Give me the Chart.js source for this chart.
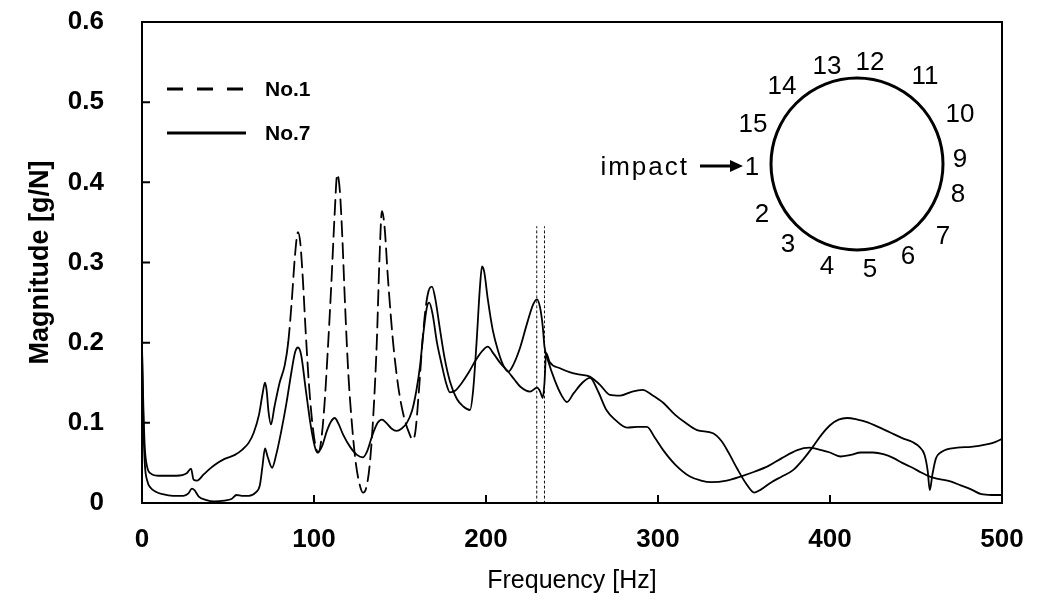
<!DOCTYPE html>
<html>
<head>
<meta charset="utf-8">
<script src="https://cdn.jsdelivr.net/npm/chart.js@4.4.1/dist/chart.umd.min.js"></script>
<style>
  html, body { margin: 0; padding: 0; background: #fff; }
</style>
</head>
<body>
<canvas id="myChart" width="1051" height="611"></canvas>
<script>
/* data : No.1 (impact point) */
const freq1 = [0, 0.8, 1.6, 3, 5, 10, 20, 26, 28.5, 30, 32, 36, 42, 48, 54, 58, 62, 65, 68, 70,
  71.5, 72.5, 73.5, 75, 77, 80, 83, 85, 87, 89, 90.7, 92, 93.5, 95, 97, 99, 101, 102.5, 104, 106,
  108, 110, 112, 113.5, 115, 116.5, 118, 120, 122, 124, 126, 128.5, 130.5, 132.5, 134.5, 136.5, 138, 139.5, 141, 143,
  146, 149, 152, 155, 157.5, 159, 161, 163, 165, 167, 168.6, 170.5, 173, 176, 179, 183, 187, 190.7, 192.5, 194.5,
  196.5, 197.7, 199, 201, 204, 207, 210, 213, 216, 220, 224, 227.5, 229.7, 231.5, 233, 234, 236, 240, 244, 247,
  251, 256, 260.5, 265, 270, 275, 282, 288, 293.6, 298, 303, 310, 318.6, 325, 331, 340, 348, 356, 364, 372,
  381, 388, 395, 400, 406, 412, 418, 425, 431, 437, 442, 448, 453, 458, 463, 470, 476, 482, 488, 494, 500];
const mag1 = [0.19, 0.12, 0.07, 0.045, 0.037, 0.034, 0.034, 0.037, 0.043, 0.029, 0.028, 0.036, 0.047, 0.055, 0.06, 0.066, 0.075, 0.088, 0.11, 0.135,
  0.15, 0.14, 0.115, 0.098, 0.12, 0.15, 0.172, 0.2, 0.25, 0.31, 0.338, 0.325, 0.28, 0.22, 0.15, 0.1, 0.07, 0.063, 0.075, 0.12,
  0.19, 0.27, 0.36, 0.41, 0.39, 0.33, 0.25, 0.16, 0.1, 0.055, 0.028, 0.013, 0.02, 0.05, 0.11, 0.2, 0.3, 0.364, 0.345, 0.28,
  0.2, 0.145, 0.11, 0.089, 0.079, 0.09, 0.14, 0.2, 0.245, 0.267, 0.27, 0.255, 0.22, 0.18, 0.152, 0.13, 0.12, 0.116, 0.14, 0.2,
  0.27, 0.295, 0.288, 0.255, 0.215, 0.19, 0.172, 0.164, 0.173, 0.195, 0.225, 0.248, 0.254, 0.243, 0.22, 0.195, 0.178, 0.153, 0.134, 0.126,
  0.137, 0.15, 0.156, 0.14, 0.116, 0.104, 0.094, 0.095, 0.095, 0.082, 0.066, 0.048, 0.033, 0.028, 0.026, 0.028, 0.033, 0.039, 0.046, 0.056,
  0.066, 0.069, 0.066, 0.063, 0.058, 0.06, 0.063, 0.063, 0.061, 0.056, 0.05, 0.044, 0.038, 0.033, 0.03, 0.027, 0.022, 0.017, 0.011, 0.01, 0.01];

/* data : No.7 */
const freq7 = [0, 0.8, 1.6, 3, 5, 8, 12, 18, 24, 27, 29, 30.5, 33, 37, 42, 48, 52, 55, 58, 62,
  66, 68.5, 70, 71.5, 73, 75.6, 78, 81, 84, 87, 89, 90.7, 92.5, 95, 98, 100.5, 102, 104.5, 107.5, 110,
  112, 114, 117, 121, 125, 128.5, 131, 134, 137, 139.5, 142, 145, 148, 151, 154, 157, 159.5, 161.6, 163.5, 165.7,
  167, 169, 171.5, 174, 177, 179, 182, 186, 190, 194, 198, 201, 204.5, 208.5, 212.8, 216.5, 220, 225.6, 229.7, 231.5,
  233, 234, 235, 237, 243, 249, 255, 260, 266, 272, 278, 285, 291, 297, 303, 310, 316, 322.7, 332, 337,
  341, 346, 351, 356, 360, 366, 372, 378.5, 385, 390, 395, 400, 405, 410, 416, 421.5, 428, 435, 442, 448,
  452, 455, 456.8, 458, 459.5, 461.5, 465, 474, 482, 491, 496, 500];
const mag7 = [0.2, 0.1, 0.05, 0.028, 0.019, 0.014, 0.011, 0.009, 0.009, 0.012, 0.018, 0.016, 0.008, 0.004, 0.002, 0.003, 0.005, 0.01, 0.009, 0.009,
  0.013, 0.022, 0.045, 0.068, 0.058, 0.044, 0.06, 0.09, 0.125, 0.165, 0.188, 0.194, 0.185, 0.145, 0.098, 0.07, 0.063, 0.07, 0.09, 0.102,
  0.106, 0.1, 0.085, 0.07, 0.06, 0.057, 0.065, 0.085, 0.1, 0.104, 0.1, 0.093, 0.09, 0.093, 0.1, 0.115, 0.14, 0.17, 0.21, 0.245,
  0.25, 0.235, 0.2, 0.175, 0.148, 0.138, 0.14, 0.15, 0.163, 0.178, 0.19, 0.195, 0.186, 0.174, 0.164, 0.154, 0.145, 0.139, 0.144, 0.139,
  0.131, 0.15, 0.187, 0.176, 0.168, 0.163, 0.16, 0.158, 0.148, 0.135, 0.134, 0.139, 0.141, 0.134, 0.125, 0.11, 0.1, 0.091, 0.087, 0.077,
  0.063, 0.043, 0.025, 0.013, 0.017, 0.026, 0.033, 0.041, 0.056, 0.07, 0.085, 0.097, 0.104, 0.106, 0.104, 0.101, 0.095, 0.088, 0.081, 0.076,
  0.07, 0.06, 0.04, 0.016, 0.035, 0.055, 0.064, 0.069, 0.07, 0.073, 0.076, 0.08];

/* dotted marker lines */
const markerFreq = [229.5, 234];
const markerTop = 0.345;

/* axes */
const xTicks = [0, 100, 200, 300, 400, 500];
const yTicks = [0, 0.1, 0.2, 0.3, 0.4, 0.5, 0.6];

/* ring diagram */
const ringLabels = ['1', '2', '3', '4', '5', '6', '7', '8', '9', '10', '11', '12', '13', '14', '15'];

const toPoints = (xs, ys) => xs.map((v, i) => ({x: v, y: ys[i]}));

const dashRange = ctx => (ctx.p0.parsed.x >= 84 && ctx.p1.parsed.x <= 168) ? [15, 7] : [];

// box, inward ticks, legend, ring
const decor = {
  id: 'decor',
  afterDatasetsDraw(chart) {
    const {ctx, chartArea: a, scales: {x, y}} = chart;
    ctx.save();
    ctx.strokeStyle = '#000';
    ctx.fillStyle = '#000';
    ctx.lineWidth = 2;
    ctx.setLineDash([]);
    ctx.strokeRect(a.left, a.top, a.right - a.left, a.bottom - a.top);

    ctx.beginPath();
    xTicks.slice(1, -1).forEach(v => {
      const px = x.getPixelForValue(v);
      ctx.moveTo(px, a.bottom); ctx.lineTo(px, a.bottom - 8);
    });
    yTicks.slice(1, -1).forEach(v => {
      const py = y.getPixelForValue(v);
      ctx.moveTo(a.left, py); ctx.lineTo(a.left + 8, py);
    });
    ctx.stroke();

    // legend
    const legY = [a.top + 67, a.top + 111];
    [0, 1].forEach(i => {
      const ds = chart.data.datasets[i];
      ctx.lineWidth = 3;
      ctx.setLineDash(i === 0 ? [16, 14] : []);
      ctx.beginPath();
      ctx.moveTo(a.left + 25, legY[i]);
      ctx.lineTo(a.left + 104, legY[i]);
      ctx.stroke();
      ctx.setLineDash([]);
      ctx.font = 'bold 21px "Liberation Sans", Arial, sans-serif';
      ctx.textBaseline = 'middle';
      ctx.textAlign = 'left';
      ctx.fillText(ds.label, a.left + 123, legY[i] + 1);
    });

    // ring
    const cx = a.left + 715, cy = a.top + 142, r = 86;
    ctx.lineWidth = 3;
    ctx.beginPath();
    ctx.arc(cx, cy, r, 0, Math.PI * 2);
    ctx.stroke();

    const offs = [[-105, 4], [-95, 51], [-69, 81], [-30, 103], [13, 106], [51, 93], [86, 73], [101, 31],
      [103, -4], [103, -49], [68, -87], [13, -101], [-30, -97], [-75, -77], [-104, -39]];
    ctx.font = '26px "Liberation Sans", Arial, sans-serif';
    ctx.textAlign = 'center';
    ctx.textBaseline = 'middle';
    ringLabels.forEach((t, i) => ctx.fillText(t, cx + offs[i][0], cy + offs[i][1]));

    ctx.textAlign = 'right';
    ctx.letterSpacing = '2px';
    ctx.fillText('impact', cx - 168, cy + 4);
    ctx.letterSpacing = '0px';
    ctx.lineWidth = 3;
    ctx.beginPath();
    ctx.moveTo(cx - 157, cy + 2);
    ctx.lineTo(cx - 125, cy + 2);
    ctx.stroke();
    ctx.beginPath();
    ctx.moveTo(cx - 114, cy + 2);
    ctx.lineTo(cx - 127, cy - 4);
    ctx.lineTo(cx - 127, cy + 8);
    ctx.closePath();
    ctx.fill();
    ctx.restore();
  }
};

const ctx = document.getElementById('myChart').getContext('2d');
const myChart = new Chart(ctx, {
  type: 'line',
  data: {
    datasets: [
      {
        label: 'No.1',
        data: toPoints(freq1, mag1),
        borderColor: '#000',
        borderWidth: 1.8,
        segment: { borderDash: dashRange },
      },
      {
        label: 'No.7',
        data: toPoints(freq7, mag7),
        borderColor: '#000',
        borderWidth: 1.8,
      },
      ...markerFreq.map(f => ({
        label: 'marker',
        data: [{x: f, y: 0}, {x: f, y: markerTop}],
        borderColor: '#000',
        borderWidth: 1,
        borderDash: [2, 3],
      }))
    ]
  },
  options: {
    responsive: false,
    animation: false,
    layout: { padding: { top: 22, right: 49, bottom: 0, left: 0 } },
    elements: {
      point: { radius: 0 },
      line: { cubicInterpolationMode: 'monotone', borderCapStyle: 'round' }
    },
    plugins: {
      legend: { display: false },
      tooltip: { enabled: false }
    },
    scales: {
      x: {
        type: 'linear',
        min: 0,
        max: 500,
        afterBuildTicks: s => { s.ticks = xTicks.map(v => ({value: v})); },
        afterFit: s => { s.height = 108; },
        grid: { display: false },
        border: { display: false },
        ticks: {
          color: '#000',
          padding: 13,
          maxRotation: 0,
          font: { family: '"Liberation Sans", Arial, sans-serif', size: 26, weight: 'bold' }
        },
        title: {
          display: true,
          text: 'Frequency [Hz]',
          color: '#000',
          padding: { top: 0, bottom: 15 },
          font: { family: '"Liberation Sans", Arial, sans-serif', size: 25 }
        }
      },
      y: {
        min: 0,
        max: 0.6,
        afterBuildTicks: s => { s.ticks = yTicks.map(v => ({value: v})); },
        afterFit: s => { s.width = 142; s.paddingTop = 16; s.paddingBottom = 16; },
        grid: { display: false },
        border: { display: false },
        ticks: {
          color: '#000',
          padding: 30,
          font: { family: '"Liberation Sans", Arial, sans-serif', size: 26, weight: 'bold' }
        },
        title: {
          display: true,
          text: 'Magnitude [g/N]',
          color: '#000',
          padding: { top: 24, bottom: 0 },
          font: { family: '"Liberation Sans", Arial, sans-serif', size: 27, weight: 'bold' }
        }
      }
    }
  },
  plugins: [decor]
});
</script>
</body>
</html>
